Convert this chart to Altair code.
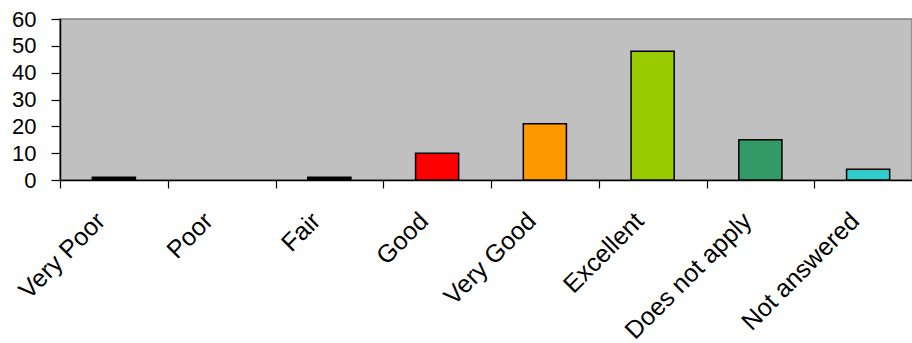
import altair as alt
import pandas as pd

# Survey responses per rating category
categories = ["Very Poor", "Poor", "Fair", "Good", "Very Good",
              "Excellent", "Does not apply", "Not answered"]
counts = [1, 0, 1, 10, 21, 48, 15, 4]
colors = ["#000000", "#000000", "#000000", "#FF0000", "#FF9900",
          "#99CC00", "#339966", "#33CCCC"]
y_ticks = [0, 10, 20, 30, 40, 50, 60]

df = pd.DataFrame({"category": categories, "count": counts, "color": colors})

FONT = "Liberation Sans"
RANGE = 862                      # x range runs past the right edge of the view
STEP = RANGE / len(categories)   # one category slot in pixels

chart = alt.Chart(df).mark_bar(stroke="black").encode(
    x=alt.X(
        "category:N",
        sort=categories,
        title=None,
        scale=alt.Scale(range=[0, RANGE], paddingInner=0.6, paddingOuter=0.3),
        axis=alt.Axis(
            # ticks sit on the slot boundaries; labels are pulled back to the centre
            tickOffset=-STEP / 2,
            labelOffset=STEP / 2 - 22,
            labelAngle=-45,
            labelAlign="right",
            labelBaseline="top",
            labelPadding=20,
            labelFont=FONT,
            labelFontSize=25,
            labelColor="black",
            labelOverlap=False,
            domainColor="black",
            domainWidth=1.5,
            tickColor="black",
            tickSize=8,
            tickWidth=1.2,
        ),
    ),
    y=alt.Y(
        "count:Q",
        title=None,
        scale=alt.Scale(domain=[0, 60], nice=False),
        axis=alt.Axis(
            values=y_ticks,
            grid=False,
            labelFont=FONT,
            labelFontSize=22,
            labelColor="black",
            labelPadding=15,
            domainColor="black",
            domainWidth=1.5,
            tickColor="black",
            tickSize=9,
            tickWidth=1.2,
        ),
    ),
    fill=alt.Fill("color:N", scale=None),
    strokeWidth=alt.condition(alt.datum.count > 0, alt.value(1.5), alt.value(0)),
).properties(
    width=852,
    height=161,
    autosize=alt.AutoSizeParams(type="none"),
    padding={"left": 60, "top": 19, "right": 0, "bottom": 163},
).configure_view(
    fill="#C0C0C0",
    stroke="#808080",
    strokeWidth=1.5,
)

chart.save("out.html", embed_options={"renderer": "svg", "actions": False})
